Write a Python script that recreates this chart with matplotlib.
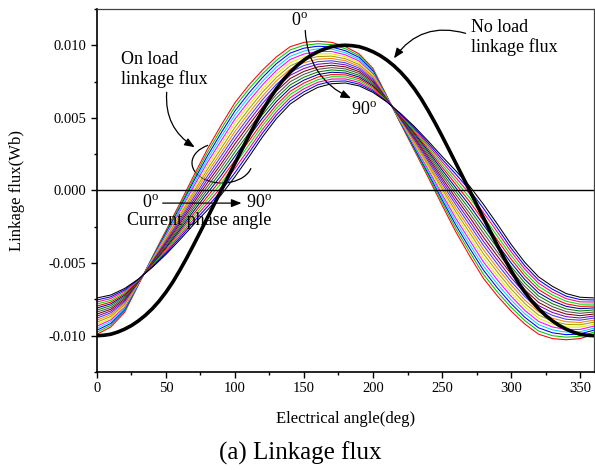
import numpy as np
import matplotlib
matplotlib.use("Agg")
import matplotlib.pyplot as plt
from matplotlib.patches import Arc
from matplotlib.transforms import IdentityTransform
from matplotlib.ticker import MultipleLocator, FormatStrFormatter

# electrical angle (deg) for the on load curves, 10 deg steps
angle = list(range(0, 361, 10))
# electrical angle (deg) for the no load curve, 5 deg steps
angle_nl = list(range(0, 361, 5))

# no load linkage flux (mWb)
no_load = [-10.0, -9.97, -9.9, -9.75, -9.55, -9.3, -8.98, -8.6, -8.15, -7.62, -7.0, -6.3,
           -5.5, -4.65, -3.75, -2.82, -1.88, -0.94, 0.0, 0.94, 1.88, 2.82, 3.75, 4.65,
           5.5, 6.3, 7.0, 7.62, 8.15, 8.6, 8.98, 9.3, 9.55, 9.75, 9.9, 9.97, 10.0,
           9.97, 9.9, 9.75, 9.55, 9.3, 8.98, 8.6, 8.15, 7.62, 7.0, 6.3,
           5.5, 4.65, 3.75, 2.82, 1.88, 0.94, 0.0, -0.94, -1.88, -2.82, -3.75, -4.65,
           -5.5, -6.3, -7.0, -7.62, -8.15, -8.6, -8.98, -9.3, -9.55, -9.75, -9.9, -9.97, -10.0]

# on load linkage flux (mWb), current phase angle 0..90 deg in 5 deg steps
phase_angle = [0, 5, 10, 15, 20, 25, 30, 35, 40, 45, 50, 55, 60, 65, 70, 75, 80, 85, 90]
on_load = [
    [-9.9, -9.4, -8.4, -6.5, -4.6, -2.75, -0.9, 1.0, 2.85, 4.5, 6.05, 7.25, 8.3, 9.2, 9.9, 10.2, 10.28, 10.2, 9.9,
     9.4, 8.4, 6.5, 4.6, 2.75, 0.9, -1.0, -2.85, -4.5, -6.05, -7.25, -8.3, -9.2, -9.9, -10.2, -10.28, -10.2, -9.9],
    [-9.76, -9.28, -8.31, -6.48, -4.64, -2.84, -1.04, 0.81, 2.62, 4.23, 5.77, 6.98, 8.04, 8.96, 9.68, 10.0, 10.1, 10.04, 9.76,
     9.28, 8.31, 6.48, 4.64, 2.84, 1.04, -0.81, -2.62, -4.23, -5.77, -6.98, -8.04, -8.96, -9.68, -10.0, -10.1, -10.04, -9.76],
    [-9.62, -9.16, -8.22, -6.46, -4.68, -2.93, -1.18, 0.63, 2.38, 3.97, 5.48, 6.7, 7.79, 8.73, 9.46, 9.8, 9.93, 9.88, 9.62,
     9.16, 8.22, 6.46, 4.68, 2.93, 1.18, -0.63, -2.38, -3.97, -5.48, -6.7, -7.79, -8.73, -9.46, -9.8, -9.93, -9.88, -9.62],
    [-9.48, -9.03, -8.13, -6.43, -4.72, -3.03, -1.32, 0.44, 2.15, 3.7, 5.2, 6.43, 7.53, 8.49, 9.24, 9.6, 9.75, 9.73, 9.48,
     9.03, 8.13, 6.43, 4.72, 3.03, 1.32, -0.44, -2.15, -3.7, -5.2, -6.43, -7.53, -8.49, -9.24, -9.6, -9.75, -9.73, -9.48],
    [-9.34, -8.91, -8.03, -6.41, -4.76, -3.12, -1.46, 0.26, 1.92, 3.43, 4.92, 6.15, 7.28, 8.26, 9.02, 9.4, 9.57, 9.57, 9.34,
     8.91, 8.03, 6.41, 4.76, 3.12, 1.46, -0.26, -1.92, -3.43, -4.92, -6.15, -7.28, -8.26, -9.02, -9.4, -9.57, -9.57, -9.34],
    [-9.21, -8.79, -7.94, -6.39, -4.79, -3.21, -1.59, 0.07, 1.68, 3.17, 4.63, 5.88, 7.02, 8.02, 8.8, 9.2, 9.4, 9.41, 9.21,
     8.79, 7.94, 6.39, 4.79, 3.21, 1.59, -0.07, -1.68, -3.17, -4.63, -5.88, -7.02, -8.02, -8.8, -9.2, -9.4, -9.41, -9.21],
    [-9.07, -8.67, -7.85, -6.37, -4.83, -3.3, -1.73, -0.12, 1.45, 2.9, 4.35, 5.6, 6.77, 7.78, 8.58, 9.0, 9.22, 9.25, 9.07,
     8.67, 7.85, 6.37, 4.83, 3.3, 1.73, 0.12, -1.45, -2.9, -4.35, -5.6, -6.77, -7.78, -8.58, -9.0, -9.22, -9.25, -9.07],
    [-8.93, -8.54, -7.76, -6.34, -4.87, -3.39, -1.87, -0.3, 1.22, 2.63, 4.07, 5.33, 6.51, 7.55, 8.36, 8.8, 9.04, 9.09, 8.93,
     8.54, 7.76, 6.34, 4.87, 3.39, 1.87, 0.3, -1.22, -2.63, -4.07, -5.33, -6.51, -7.55, -8.36, -8.8, -9.04, -9.09, -8.93],
    [-8.79, -8.42, -7.67, -6.32, -4.91, -3.48, -2.01, -0.49, 0.98, 2.37, 3.78, 5.05, 6.26, 7.31, 8.14, 8.6, 8.87, 8.93, 8.79,
     8.42, 7.67, 6.32, 4.91, 3.48, 2.01, 0.49, -0.98, -2.37, -3.78, -5.05, -6.26, -7.31, -8.14, -8.6, -8.87, -8.93, -8.79],
    [-8.65, -8.3, -7.58, -6.3, -4.95, -3.58, -2.15, -0.68, 0.75, 2.1, 3.5, 4.78, 6.0, 7.08, 7.93, 8.4, 8.69, 8.78, 8.65,
     8.3, 7.58, 6.3, 4.95, 3.58, 2.15, 0.68, -0.75, -2.1, -3.5, -4.78, -6.0, -7.08, -7.93, -8.4, -8.69, -8.78, -8.65],
    [-8.51, -8.18, -7.48, -6.28, -4.99, -3.67, -2.29, -0.86, 0.52, 1.83, 3.22, 4.5, 5.74, 6.84, 7.71, 8.2, 8.51, 8.62, 8.51,
     8.18, 7.48, 6.28, 4.99, 3.67, 2.29, 0.86, -0.52, -1.83, -3.22, -4.5, -5.74, -6.84, -7.71, -8.2, -8.51, -8.62, -8.51],
    [-8.37, -8.06, -7.39, -6.26, -5.03, -3.76, -2.43, -1.05, 0.28, 1.57, 2.93, 4.23, 5.49, 6.6, 7.49, 8.0, 8.34, 8.46, 8.37,
     8.06, 7.39, 6.26, 5.03, 3.76, 2.43, 1.05, -0.28, -1.57, -2.93, -4.23, -5.49, -6.6, -7.49, -8.0, -8.34, -8.46, -8.37],
    [-8.23, -7.93, -7.3, -6.23, -5.07, -3.85, -2.57, -1.23, 0.05, 1.3, 2.65, 3.95, 5.23, 6.37, 7.27, 7.8, 8.16, 8.3, 8.23,
     7.93, 7.3, 6.23, 5.07, 3.85, 2.57, 1.23, -0.05, -1.3, -2.65, -3.95, -5.23, -6.37, -7.27, -7.8, -8.16, -8.3, -8.23],
    [-8.09, -7.81, -7.21, -6.21, -5.11, -3.94, -2.71, -1.42, -0.18, 1.03, 2.37, 3.68, 4.98, 6.13, 7.05, 7.6, 7.98, 8.14, 8.09,
     7.81, 7.21, 6.21, 5.11, 3.94, 2.71, 1.42, 0.18, -1.03, -2.37, -3.68, -4.98, -6.13, -7.05, -7.6, -7.98, -8.14, -8.09],
    [-7.96, -7.69, -7.12, -6.19, -5.14, -4.03, -2.84, -1.61, -0.42, 0.77, 2.08, 3.4, 4.72, 5.89, 6.83, 7.4, 7.81, 7.98, 7.96,
     7.69, 7.12, 6.19, 5.14, 4.03, 2.84, 1.61, 0.42, -0.77, -2.08, -3.4, -4.72, -5.89, -6.83, -7.4, -7.81, -7.98, -7.96],
    [-7.82, -7.57, -7.03, -6.17, -5.18, -4.13, -2.98, -1.79, -0.65, 0.5, 1.8, 3.13, 4.47, 5.66, 6.61, 7.2, 7.63, 7.83, 7.82,
     7.57, 7.03, 6.17, 5.18, 4.13, 2.98, 1.79, 0.65, -0.5, -1.8, -3.13, -4.47, -5.66, -6.61, -7.2, -7.63, -7.83, -7.82],
    [-7.68, -7.44, -6.93, -6.14, -5.22, -4.22, -3.12, -1.98, -0.88, 0.23, 1.52, 2.85, 4.21, 5.42, 6.39, 7.0, 7.45, 7.67, 7.68,
     7.44, 6.93, 6.14, 5.22, 4.22, 3.12, 1.98, 0.88, -0.23, -1.52, -2.85, -4.21, -5.42, -6.39, -7.0, -7.45, -7.67, -7.68],
    [-7.54, -7.32, -6.84, -6.12, -5.26, -4.31, -3.26, -2.16, -1.12, -0.03, 1.23, 2.58, 3.96, 5.19, 6.17, 6.8, 7.28, 7.51, 7.54,
     7.32, 6.84, 6.12, 5.26, 4.31, 3.26, 2.16, 1.12, 0.03, -1.23, -2.58, -3.96, -5.19, -6.17, -6.8, -7.28, -7.51, -7.54],
    [-7.4, -7.2, -6.75, -6.1, -5.3, -4.4, -3.4, -2.35, -1.35, -0.3, 0.95, 2.3, 3.7, 4.95, 5.95, 6.6, 7.1, 7.35, 7.4,
     7.2, 6.75, 6.1, 5.3, 4.4, 3.4, 2.35, 1.35, 0.3, -0.95, -2.3, -3.7, -4.95, -5.95, -6.6, -7.1, -7.35, -7.4],
]

line_colors = ['#ff0000', '#00c800', '#0000ff', '#00d8ff', '#ff00ff', '#e8e800',
               '#a0a000', '#ff8000', '#3c3cff', '#8000c0', '#800000', '#505050',
               '#008000', '#0000a0', '#ff0000', '#00e000', '#ff0080', '#0000ff', '#000000']

plt.rcParams['font.family'] = ['Liberation Serif', 'DejaVu Serif']
plt.rcParams['mathtext.fontset'] = 'custom'
plt.rcParams['mathtext.rm'] = 'Liberation Serif'
plt.rcParams['axes.unicode_minus'] = False

fig = plt.figure(figsize=(5.95, 4.70), dpi=100)
ax = fig.add_axes([0.163, 0.2085, 0.835, 0.7725])

for vals, col in zip(on_load, line_colors):
    ax.plot(angle, np.array(vals) * 1e-3, color=col, lw=0.75)
ax.plot(angle_nl, np.array(no_load) * 1e-3, color='black', lw=2.6)
ax.axhline(0, color='black', lw=1.0)

ax.set_xlim(0, 360)
ax.set_ylim(-0.0125, 0.0125)
ax.xaxis.set_major_locator(MultipleLocator(50))
ax.xaxis.set_minor_locator(MultipleLocator(25))
ax.yaxis.set_major_locator(MultipleLocator(0.005))
ax.yaxis.set_minor_locator(MultipleLocator(0.0025))
ax.yaxis.set_major_formatter(FormatStrFormatter('%.3f'))
ax.tick_params(which='both', direction='out', top=False, right=False, labelsize=10.5, width=1.0)
ax.tick_params(which='major', length=4)
ax.tick_params(which='minor', length=2.5)
for s in ['left', 'bottom']:
    ax.spines[s].set_linewidth(1.2)
for s in ['top', 'right']:
    ax.spines[s].set_linewidth(0.9)
    ax.spines[s].set_color('#404040')

ax.set_xlabel('Electrical angle(deg)', fontsize=12, labelpad=11)
ax.set_ylabel('Linkage flux(Wb)', fontsize=12, labelpad=17)
fig.text(0.504, 0.036, '(a) Linkage flux', fontsize=18, ha='center', va='center')

deg = '$^{\\mathrm{o}}$'
arrow_kw = dict(arrowstyle='-|>,head_length=0.5,head_width=0.2', color='black',
                lw=0.9, shrinkA=0, shrinkB=0, mutation_scale=12)

ax.text(17.3, 0.00834, 'On load\nlinkage flux', fontsize=13, ha='left', va='center', linespacing=1.15)
ax.annotate('', xy=(70.8, 0.00298), xytext=(50.5, 0.00676),
            arrowprops=dict(connectionstyle='arc3,rad=0.3', **arrow_kw))
ax.add_patch(Arc((222, 307), 60, 40, theta1=128, theta2=350, transform=IdentityTransform(),
                 color='black', lw=0.9, clip_on=False))

ax.text(270.8, 0.0105, 'No load\nlinkage flux', fontsize=13, ha='left', va='center', linespacing=1.15)
ax.annotate('', xy=(215.2, 0.0091), xytext=(267.1, 0.01082),
            arrowprops=dict(connectionstyle='arc3,rad=0.35', **arrow_kw))

ax.text(146.6, 0.01164, '0' + deg, fontsize=13, ha='center', va='center')
ax.annotate('', xy=(184.1, 0.00635), xytext=(150.9, 0.01102),
            arrowprops=dict(connectionstyle='arc3,rad=0.3', **arrow_kw))
ax.text(193.5, 0.00551, '90' + deg, fontsize=13, ha='center', va='center')

ax.text(39.0, -0.00087, '0' + deg, fontsize=13, ha='center', va='center')
ax.annotate('', xy=(104.7, -0.00087), xytext=(47.6, -0.00087), arrowprops=arrow_kw)
ax.text(117.3, -0.00087, '90' + deg, fontsize=13, ha='center', va='center')
ax.text(74.0, -0.00204, 'Current phase angle', fontsize=13, ha='center', va='center')

fig.savefig('out.png', dpi=100)
